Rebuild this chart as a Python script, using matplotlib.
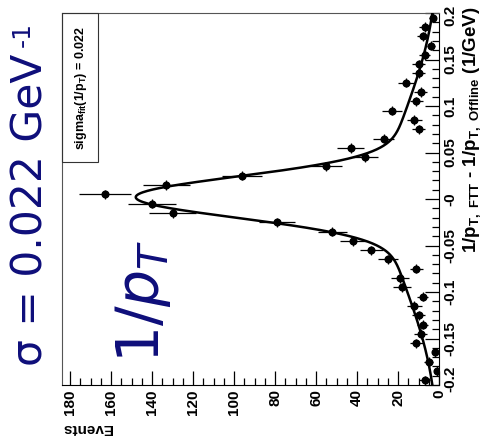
import numpy as np
import matplotlib
matplotlib.use("Agg")
import matplotlib.pyplot as plt
from matplotlib.patches import Rectangle
from matplotlib.ticker import MultipleLocator

plt.rcParams["mathtext.fontset"] = "custom"
plt.rcParams["mathtext.rm"] = "DejaVu Sans"
plt.rcParams["mathtext.it"] = "DejaVu Sans:italic"
plt.rcParams["mathtext.bf"] = "Liberation Sans:bold"

# 1/pT(FTT) - 1/pT(Offline) histogram, 40 bins of 0.01 (1/GeV)
bin_centers = np.round(np.arange(-0.195, 0.2, 0.01), 3)
counts = [7, 1, 5, 2, 11, 9, 8, 10, 12, 8,
          18, 19, 11, 25, 33, 42, 52, 79, 130, 140,
          163, 133, 96, 55, 36, 43, 27, 10, 12, 23,
          11, 9, 16, 10, 10, 7, 4, 8, 7, 3]
bin_half_width = 0.005

# double gaussian fit result
core_amp, core_mean, core_sigma = 122.0, 0.002, 0.022
tail_amp, tail_mean, tail_sigma = 26.0, 0.0, 0.098

xtick_vals = list(range(0, 181, 20))
ytick_vals = [-0.2, -0.15, -0.1, -0.05, 0.0, 0.05, 0.1, 0.15, 0.2]
ytick_labels = ["-0.2", "-0.15", "-0.1", "-0.05", "-0", "0.05", "0.1", "0.15", "0.2"]

navy = "#0e0e7a"
W, H = 483, 447
tick_font = dict(fontweight="bold", fontsize=11, family="Liberation Sans")

fig = plt.figure(figsize=(W / 100, H / 100), dpi=100)
ax = fig.add_axes([62 / W, 1 - 385 / H, (439 - 62) / W, (385 - 13) / H])

counts = np.array(counts, dtype=float)
ax.errorbar(counts, bin_centers, xerr=np.sqrt(counts), yerr=bin_half_width,
            fmt="o", color="black", ms=4.8, elinewidth=0.9, capsize=0, zorder=3)

d = np.linspace(-0.2, 0.2, 800)
fit = (core_amp * np.exp(-0.5 * ((d - core_mean) / core_sigma) ** 2)
       + tail_amp * np.exp(-0.5 * ((d - tail_mean) / tail_sigma) ** 2))
ax.plot(fit, d, color="black", lw=1.8, zorder=4)

ax.set_xlim(184, 0)
ax.set_ylim(-0.2, 0.2)
ax.yaxis.tick_right()
ax.set_xticks(xtick_vals)
ax.set_xticklabels([str(v) for v in xtick_vals], rotation=90, ha="center", va="top", **tick_font)
ax.set_yticks(ytick_vals)
# the corner labels are placed by hand so they sit inside the axis ends
ax.set_yticklabels([""] + ytick_labels[1:-1] + [""], rotation=90, ha="left", va="center", **tick_font)
ax.annotate(ytick_labels[0], xy=(1, ytick_vals[0]), xycoords=("axes fraction", "data"),
            xytext=(3, 4.5), textcoords="offset points", rotation=90,
            ha="left", va="center", **tick_font)
ax.annotate(ytick_labels[-1], xy=(1, ytick_vals[-1]), xycoords=("axes fraction", "data"),
            xytext=(3, -1.5), textcoords="offset points", rotation=90,
            ha="left", va="center", **tick_font)
ax.xaxis.set_minor_locator(MultipleLocator(5))
ax.yaxis.set_minor_locator(MultipleLocator(0.01))
ax.tick_params(which="both", direction="in", top=False, left=False,
               right=True, bottom=True, width=0.9)
ax.tick_params(which="major", length=10, pad=3)
ax.tick_params(which="minor", length=5)
for side in ("top", "left"):
    ax.spines[side].set_color("#555555")
    ax.spines[side].set_linewidth(0.8)

# stats box
fig.patches.append(Rectangle((62 / W, 1 - 162 / H), 36 / W, 149 / H, transform=fig.transFigure,
                             fill=False, ec="#333333", lw=0.8))
fig.text(81 / W, 1 - 88 / H, r"sigma$_{\mathbf{fit}}$(1/p$_{\mathbf{T}}$) = 0.022",
         rotation=90, ha="center", va="center", fontsize=9, fontweight="bold",
         family="Liberation Sans")

# axis titles
fig.text(62 / W, 1 - 428 / H, "Events", rotation=180, ha="left", va="center",
         fontsize=11, fontweight="bold", family="Liberation Sans")
fig.text(472 / W, 1 - 6 / H,
         r"$\mathbf{1/p_{T,\ FTT}}$ - $\mathbf{1/p_{T,\ Offline}}$ (1/GeV)",
         rotation=90, ha="center", va="top", fontsize=13.5, fontweight="bold",
         family="Liberation Sans")

# annotations
fig.text(31 / W, 1 - 366 / H, "σ = 0.022 GeV", rotation=90, ha="center",
         va="bottom", fontsize=30.5, color=navy)
fig.text(23 / W, 1 - 47 / H, "-1", rotation=90, ha="center",
         va="bottom", fontsize=18, color=navy)
fig.text(143 / W, 1 - 363 / H, r"1/$p_T$", rotation=90, ha="center", va="bottom",
         fontsize=42, color=navy)

fig.savefig("out.png", dpi=100)
